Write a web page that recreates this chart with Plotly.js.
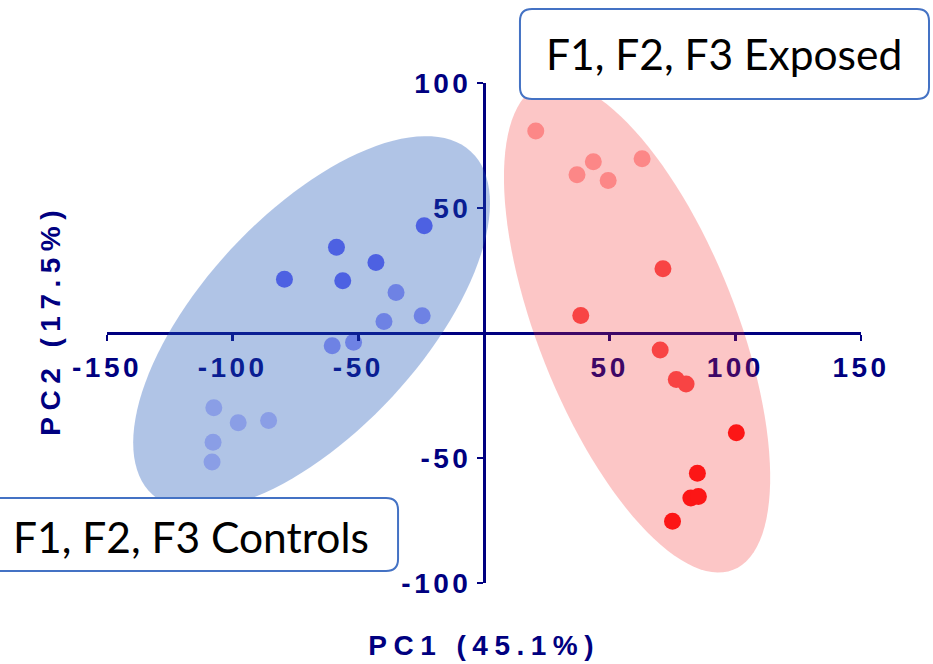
<!DOCTYPE html>
<html><head><meta charset="utf-8">
<script src="https://cdn.plot.ly/plotly-3.0.1.min.js"></script>
<style>
html,body{margin:0;padding:0;background:#fff;}
#chart{width:933px;height:664px;}
.xtick text, .ytick text { letter-spacing: 3.5px; }
.annotation[data-index="0"] text, .annotation[data-index="1"] text { letter-spacing: 6.5px; }
</style></head><body><div id="chart"></div>
<script>
// ---- data (PC1, PC2 scores) ----
const ctrlDarkX  = [-79.4, -58.7, -56.2, -43.0, -23.8];
const ctrlDarkY  = [21.5, 34.3, 20.9, 28.2, 42.9];
const ctrlMidX   = [-60.4, -51.9, -39.8, -35.0, -24.6];
const ctrlMidY   = [-5.1, -3.7, 4.6, 16.2, 6.9];
const ctrlLightX = [-107.5, -97.8, -85.7, -107.8, -108.2];
const ctrlLightY = [-29.9, -35.9, -35.0, -43.7, -51.6];
const expLightX  = [20.6, 37.0, 43.5, 49.4, 62.9];
const expLightY  = [80.8, 63.3, 68.5, 61.0, 69.7];
const expMidX    = [38.5, 70.1, 71.2, 76.5, 80.4];
const expMidY    = [7.0, -6.8, 25.7, -18.6, -20.4];
const expDarkX   = [100.4, 84.9, 82.3, 85.3, 75.0];
const expDarkY   = [-39.9, -56.1, -66.0, -65.4, -75.3];
// group ellipses: [centerX, centerY, semiMajor, semiMinor, angleDeg]
const ctrlEllipse = [-68.6, 4.0, 93.4, 43.6, 47.3];
const expEllipse  = [60.9, 2.3, 104.3, 39.4, -68.5];
// axes text
const xTickVals = [-150, -100, -50, 50, 100, 150];
const xTickText = ['-150', '-100', '-50', '50', '100', '150'];
const yTickVals = [-100, -50, 50, 100];
const yTickText = ['-100', '-50', '50', '100'];
const xTitle = 'PC1 (45.1%)';
const yTitle = 'PC2 (17.5%)';
const groupLabels = ['F1, F2, F3 Exposed', 'F1, F2, F3 Controls'];

const NAVY = '#000080';
function pts(x, y, color) {
  return {x: x, y: y, type: 'scatter', mode: 'markers', hoverinfo: 'skip',
    marker: {size: 17, color: color, line: {width: 0}}, showlegend: false};
}
const traces = [
  pts(ctrlLightX, ctrlLightY, 'rgb(197,197,255)'),
  pts(ctrlMidX, ctrlMidY, 'rgb(154,154,252)'),
  pts(ctrlDarkX, ctrlDarkY, 'rgb(104,104,249)'),
  pts(expLightX, expLightY, 'rgb(255,171,171)'),
  pts(expMidX, expMidY, 'rgb(250,82,82)'),
  pts(expDarkX, expDarkY, 'rgb(255,20,20)')
];

function ellipsePath(e) {
  const [cx, cy, a, b, ang] = e;
  const t = ang * Math.PI / 180, c = Math.cos(t), s = Math.sin(t);
  let p = '';
  for (let i = 0; i <= 120; i++) {
    const u = i / 120 * 2 * Math.PI;
    const x = cx + a * c * Math.cos(u) - b * s * Math.sin(u);
    const y = cy + a * s * Math.cos(u) + b * c * Math.sin(u);
    p += (i === 0 ? 'M' : 'L') + x.toFixed(3) + ',' + y.toFixed(3);
  }
  return p + 'Z';
}
function roundRect(x0, y0, x1, y1, rx, ry) {
  return `M${x0+rx},${y0} L${x1-rx},${y0} Q${x1},${y0} ${x1},${y0+ry} L${x1},${y1-ry} Q${x1},${y1} ${x1-rx},${y1} L${x0+rx},${y1} Q${x0},${y1} ${x0},${y1-ry} L${x0},${y0+ry} Q${x0},${y0} ${x0+rx},${y0} Z`;
}
const rx = 12 / 754, ry = 12 / 500;
const shapes = [
  {type: 'path', xref: 'x', yref: 'y', layer: 'above', path: ellipsePath(ctrlEllipse),
   fillcolor: 'rgb(29,86,183)', opacity: 0.35, line: {width: 0}},
  {type: 'path', xref: 'x', yref: 'y', layer: 'above', path: ellipsePath(expEllipse),
   fillcolor: 'rgb(243,27,27)', opacity: 0.25, line: {width: 0}},
  {type: 'path', xref: 'paper', yref: 'paper', layer: 'above',
   path: roundRect(0.5477, 0.968, 1.0902, 1.148, rx, ry),
   fillcolor: '#ffffff', line: {color: '#4472C4', width: 2}},
  {type: 'path', xref: 'paper', yref: 'paper', layer: 'above',
   path: roundRect(-0.158, 0.024, 0.386, 0.17, rx, ry),
   fillcolor: '#ffffff', line: {color: '#4472C4', width: 2}}
];
const tickFont = {family: 'Liberation Sans, Arial, sans-serif', size: 28, color: NAVY, weight: 'bold'};
const titleFont = {family: 'Liberation Sans, Arial, sans-serif', size: 28, color: NAVY, weight: 'bold'};
const boxFont = {family: 'Lato, sans-serif', size: 42.5, color: '#000000'};
const layout = {
  width: 933, height: 664,
  margin: {l: 107, r: 72, t: 83, b: 81},
  paper_bgcolor: '#ffffff', plot_bgcolor: 'rgba(0,0,0,0)',
  showlegend: false,
  xaxis: {range: [-150, 150], anchor: 'free', position: 0.5, showline: true, linecolor: NAVY, linewidth: 3,
    ticks: 'outside', ticklen: 6, tickwidth: 2.5, tickcolor: NAVY, tickmode: 'array', ticklabelstandoff: 2,
    tickvals: xTickVals, ticktext: xTickText, tickfont: tickFont, showgrid: false, zeroline: false,
    fixedrange: true},
  yaxis: {range: [-100, 100], anchor: 'free', position: 0.5, showline: true, linecolor: NAVY, linewidth: 3,
    ticks: 'outside', ticklen: 6, tickwidth: 2.5, tickcolor: NAVY, tickmode: 'array',
    tickvals: yTickVals, ticktext: yTickText, tickfont: tickFont, showgrid: false, zeroline: false,
    fixedrange: true},
  shapes: shapes,
  annotations: [
    {text: xTitle, xref: 'paper', yref: 'paper', x: 0.5, y: -0.124, xanchor: 'center', yanchor: 'middle',
     showarrow: false, font: titleFont},
    {text: yTitle, xref: 'paper', yref: 'paper', x: -0.0756, y: 0.526, xanchor: 'center', yanchor: 'middle',
     textangle: -90, showarrow: false, font: titleFont},
    {text: groupLabels[0], xref: 'paper', yref: 'paper', x: 0.8177, y: 1.058, xanchor: 'center', yanchor: 'middle',
     showarrow: false, font: boxFont},
    {text: groupLabels[1], xref: 'paper', yref: 'paper', x: 0.112, y: 0.094, xanchor: 'center', yanchor: 'middle',
     showarrow: false, font: boxFont}
  ]
};
Plotly.newPlot('chart', traces, layout, {displayModeBar: false, staticPlot: true});
</script></body></html>
